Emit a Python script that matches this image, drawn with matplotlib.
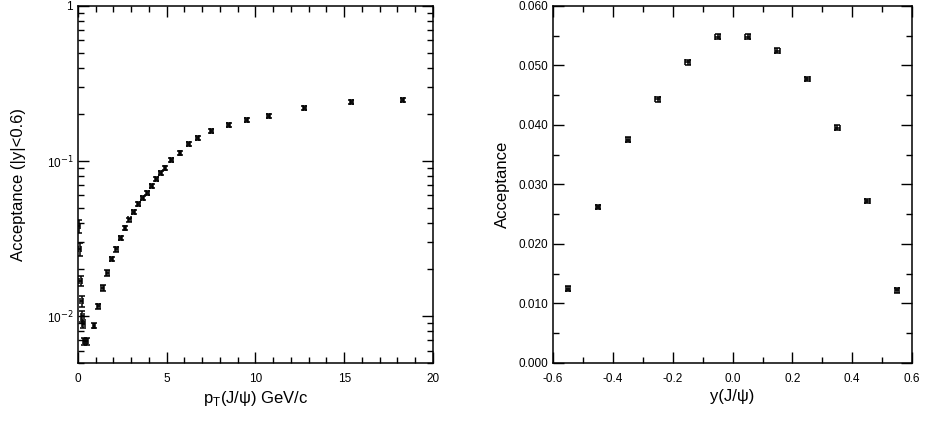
import numpy as np
import matplotlib.pyplot as plt
from matplotlib.ticker import MultipleLocator, FixedLocator, NullFormatter

plt.rcParams['font.family'] = ['Liberation Sans', 'DejaVu Sans']

# Left panel: acceptance vs pT (|y|<0.6)
pt = [0.05, 0.1, 0.15, 0.2, 0.25, 0.3, 0.35, 0.5, 0.9, 1.15, 1.4, 1.65, 1.9, 2.15,
      2.4, 2.65, 2.9, 3.15, 3.4, 3.65, 3.9, 4.15, 4.4, 4.65, 4.9, 5.25, 5.75,
      6.25, 6.75, 7.5, 8.5, 9.5, 10.75, 12.75, 15.4, 18.3]
acc_pt = [0.038, 0.027, 0.0169, 0.0125, 0.0100, 0.0089, 0.0069, 0.0069, 0.0087,
          0.0116, 0.0152, 0.019, 0.0234, 0.027, 0.032, 0.037, 0.042, 0.047,
          0.053, 0.058, 0.0625, 0.0694, 0.077, 0.0843, 0.0908, 0.101, 0.1135,
          0.128, 0.140, 0.157, 0.172, 0.183, 0.194, 0.219, 0.239, 0.246]
acc_pt_relerr = [0.10, 0.10, 0.08, 0.08, 0.08, 0.06, 0.05, 0.05, 0.04, 0.04, 0.04,
                 0.04, 0.035, 0.035, 0.035, 0.03, 0.03, 0.03, 0.03, 0.03, 0.03,
                 0.03, 0.03, 0.03, 0.03, 0.03, 0.03, 0.03, 0.03, 0.03, 0.03, 0.03,
                 0.03, 0.03, 0.03, 0.03]

# Right panel: acceptance vs rapidity
rap = [-0.55, -0.45, -0.35, -0.25, -0.15, -0.05, 0.05, 0.15, 0.25, 0.35, 0.45, 0.55]
acc_y = [0.0125, 0.0262, 0.0375, 0.0443, 0.0505, 0.0548, 0.0548, 0.0525, 0.0477,
         0.0395, 0.0272, 0.0122]
acc_y_err = [0.0004] * len(rap)

fig = plt.figure(figsize=(9.25, 4.21), dpi=100)
ax1 = fig.add_axes([0.0843, 0.138, 0.3838, 0.848])
ax2 = fig.add_axes([0.598, 0.138, 0.388, 0.848])

eb_kw = dict(fmt='none', ecolor='black', elinewidth=1.1, capsize=2.4, capthick=1.1)

acc_pt = np.array(acc_pt)
ax1.errorbar(pt, acc_pt, yerr=acc_pt * np.array(acc_pt_relerr), xerr=0.08, **eb_kw)
ax1.set_yscale('log')
ax1.set_xlim(0, 20)
ax1.set_ylim(0.005, 1)
ax1.xaxis.set_major_locator(MultipleLocator(5))
ax1.xaxis.set_minor_locator(MultipleLocator(1))
ax1.yaxis.set_major_locator(FixedLocator([0.01, 0.1, 1]))
ax1.yaxis.set_minor_locator(FixedLocator(
    [k * 10.0 ** e for e in (-3, -2, -1) for k in range(2, 10)]))
ax1.yaxis.set_minor_formatter(NullFormatter())
ax1.set_yticklabels(['10$^{-2}$', '10$^{-1}$', '1'])
ax1.set_xlabel('p$_{\\mathregular{T}}$(J/\u03c8) GeV/c', fontsize=12, labelpad=3)
ax1.set_ylabel('Acceptance (|y|<0.6)', fontsize=12, labelpad=15)

ax2.errorbar(rap, acc_y, yerr=acc_y_err, xerr=0.008, **eb_kw)
ax2.set_xlim(-0.6, 0.6)
ax2.set_ylim(0, 0.060)
ax2.xaxis.set_major_locator(MultipleLocator(0.2))
ax2.xaxis.set_minor_locator(MultipleLocator(0.1))
ax2.yaxis.set_major_locator(MultipleLocator(0.010))
ax2.yaxis.set_minor_locator(MultipleLocator(0.005))
ax2.xaxis.set_major_formatter(plt.FuncFormatter(lambda v, p: f'{v:.1f}'))
ax2.yaxis.set_major_formatter(plt.FuncFormatter(lambda v, p: f'{v:.3f}'))
ax2.set_xlabel('y(J/\u03c8)', fontsize=12, labelpad=3)
ax2.set_ylabel('Acceptance', fontsize=12, labelpad=6)

for ax in (ax1, ax2):
    for s in ax.spines.values():
        s.set_linewidth(1.1)
    ax.tick_params(which='both', direction='in', top=True, right=True,
                   labelsize=8.5, width=1.0)
    ax.tick_params(which='major', length=8)
    ax.tick_params(which='minor', length=4.5)
    ax.tick_params(axis='x', pad=7)

fig.savefig('out.png', dpi=100)
